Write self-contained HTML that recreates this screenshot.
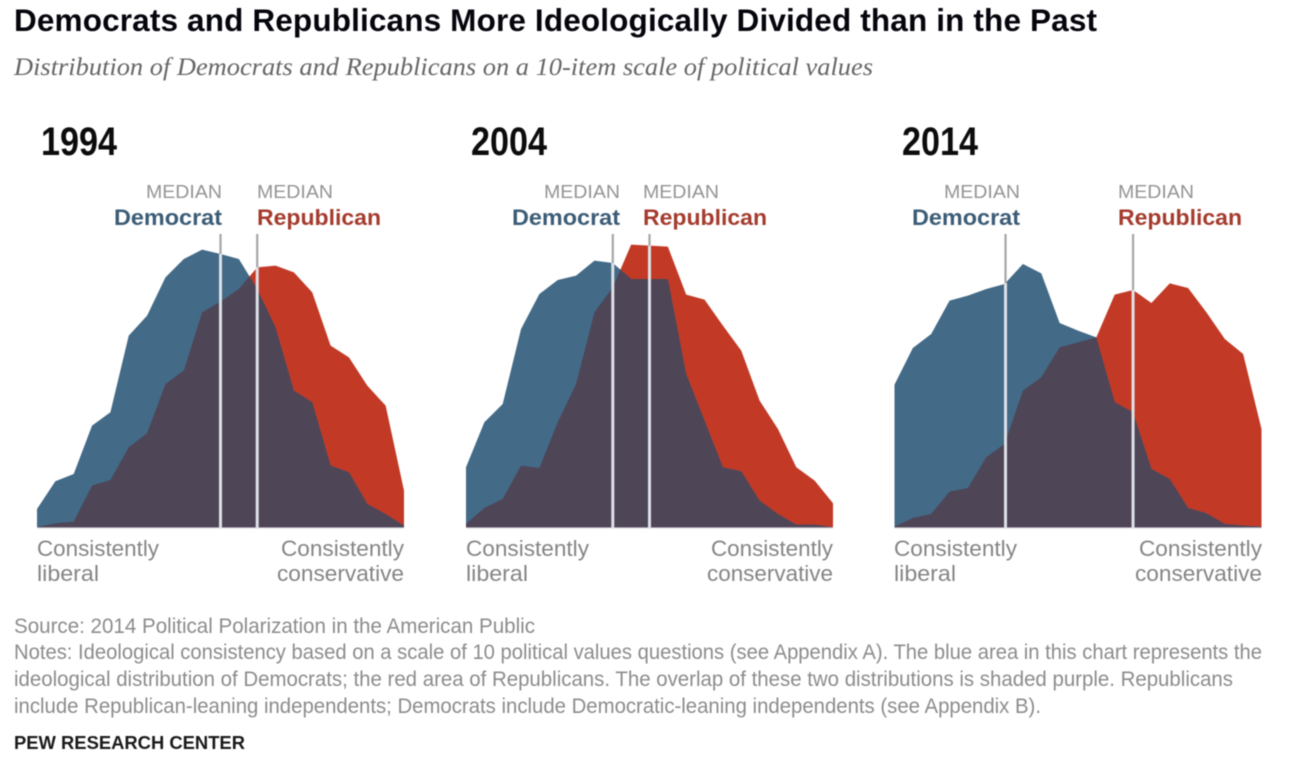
<!DOCTYPE html>
<html lang="en">
<head>
<meta charset="utf-8">
<title>Democrats and Republicans More Ideologically Divided than in the Past</title>
<style>
html,body{margin:0;padding:0;background:#fff;width:1298px;height:764px;overflow:hidden}
svg{display:block;filter:blur(0.55px)}
text{font-family:"Liberation Sans",sans-serif}
.median{font-size:18.5px;fill:#949494}
.dem{font-size:22px;font-weight:bold;fill:#3b5c76}
.rep{font-size:22px;font-weight:bold;fill:#a53b2e}
.year{font-size:40px;font-weight:bold;fill:#0c0c0c}
.end{font-size:22.5px;fill:#858585}
.note{font-size:21px;fill:#8c8c8c}
</style>
</head>
<body>
<svg id="chart" width="1298" height="764" viewBox="0 0 1298 764" xmlns="http://www.w3.org/2000/svg">
  <rect width="1298" height="764" fill="#fff"/>
  <text x="14" y="31" font-size="31.5" font-weight="bold" fill="#05050d" textLength="1083" lengthAdjust="spacing">Democrats and Republicans More Ideologically Divided than in the Past</text>
  <text x="14" y="75" font-size="25" font-style="italic" fill="#666" style="font-family:'Liberation Serif',serif" textLength="859" lengthAdjust="spacingAndGlyphs">Distribution of Democrats and Republicans on a 10-item scale of political values</text>

  <text class="year" x="41" y="155" textLength="76" lengthAdjust="spacingAndGlyphs">1994</text>
  <text class="year" x="471" y="155" textLength="76" lengthAdjust="spacingAndGlyphs">2004</text>
  <text class="year" x="902" y="155" textLength="76" lengthAdjust="spacingAndGlyphs">2014</text>

  <g id="panels"></g>

  <g>
    <text class="median" x="146" y="198" textLength="76" lengthAdjust="spacingAndGlyphs">MEDIAN</text>
    <text class="dem" x="114" y="225" textLength="108" lengthAdjust="spacingAndGlyphs">Democrat</text>
    <text class="median" x="257" y="198" textLength="76" lengthAdjust="spacingAndGlyphs">MEDIAN</text>
    <text class="rep" x="257" y="225" textLength="124" lengthAdjust="spacingAndGlyphs">Republican</text>
  </g>
  <g>
    <text class="median" x="544" y="198" textLength="76" lengthAdjust="spacingAndGlyphs">MEDIAN</text>
    <text class="dem" x="512" y="225" textLength="108" lengthAdjust="spacingAndGlyphs">Democrat</text>
    <text class="median" x="643" y="198" textLength="76" lengthAdjust="spacingAndGlyphs">MEDIAN</text>
    <text class="rep" x="643" y="225" textLength="124" lengthAdjust="spacingAndGlyphs">Republican</text>
  </g>
  <g>
    <text class="median" x="944" y="198" textLength="76" lengthAdjust="spacingAndGlyphs">MEDIAN</text>
    <text class="dem" x="912" y="225" textLength="108" lengthAdjust="spacingAndGlyphs">Democrat</text>
    <text class="median" x="1118" y="198" textLength="76" lengthAdjust="spacingAndGlyphs">MEDIAN</text>
    <text class="rep" x="1118" y="225" textLength="124" lengthAdjust="spacingAndGlyphs">Republican</text>
  </g>

  <g>
    <text class="end" x="37" y="556"><tspan textLength="122" lengthAdjust="spacingAndGlyphs">Consistently</tspan><tspan x="37" y="581" textLength="62" lengthAdjust="spacingAndGlyphs">liberal</tspan></text>
    <text class="end" x="281" y="556"><tspan textLength="123" lengthAdjust="spacingAndGlyphs">Consistently</tspan><tspan x="277" y="581" textLength="127" lengthAdjust="spacingAndGlyphs">conservative</tspan></text>
  </g>
  <g>
    <text class="end" x="466" y="556"><tspan textLength="123" lengthAdjust="spacingAndGlyphs">Consistently</tspan><tspan x="466" y="581" textLength="62" lengthAdjust="spacingAndGlyphs">liberal</tspan></text>
    <text class="end" x="711" y="556"><tspan textLength="122" lengthAdjust="spacingAndGlyphs">Consistently</tspan><tspan x="707" y="581" textLength="126" lengthAdjust="spacingAndGlyphs">conservative</tspan></text>
  </g>
  <g>
    <text class="end" x="894" y="556"><tspan textLength="123" lengthAdjust="spacingAndGlyphs">Consistently</tspan><tspan x="894" y="581" textLength="62" lengthAdjust="spacingAndGlyphs">liberal</tspan></text>
    <text class="end" x="1139" y="556"><tspan textLength="123" lengthAdjust="spacingAndGlyphs">Consistently</tspan><tspan x="1135" y="581" textLength="127" lengthAdjust="spacingAndGlyphs">conservative</tspan></text>
  </g>

  <text class="note" x="14" y="633" textLength="521" lengthAdjust="spacingAndGlyphs">Source: 2014 Political Polarization in the American Public</text>
  <text class="note" x="14" y="659" textLength="1248" lengthAdjust="spacingAndGlyphs">Notes: Ideological consistency based on a scale of 10 political values questions (see Appendix A). The blue area in this chart represents the</text>
  <text class="note" x="14" y="686" textLength="1219" lengthAdjust="spacingAndGlyphs">ideological distribution of Democrats; the red area of Republicans. The overlap of these two distributions is shaded purple. Republicans</text>
  <text class="note" x="14" y="713" textLength="1027" lengthAdjust="spacingAndGlyphs">include Republican-leaning independents; Democrats include Democratic-leaning independents (see Appendix B).</text>
  <text x="14" y="749" font-size="18.5" font-weight="bold" fill="#1a1a1a" textLength="231" lengthAdjust="spacingAndGlyphs">PEW RESEARCH CENTER</text>
</svg>

<script>
const years = [1994, 2004, 2014];

const democrats1994 = [0.55,1.38,1.60,3.05,3.45,5.75,6.35,7.50,8.05,8.33,8.20,8.05,7.15,6.00,4.10,3.75,1.85,1.65,0.70,0.40,0.05];
const republicans1994 = [0.00,0.12,0.17,1.25,1.42,2.40,2.82,4.30,4.70,6.45,6.77,7.15,7.80,7.85,7.65,7.05,5.45,5.10,4.25,3.65,1.10];

const democrats2004 = [1.80,3.15,3.70,5.95,7.00,7.42,7.55,8.00,7.93,7.45,7.45,7.45,4.60,3.20,1.80,1.68,0.80,0.40,0.08,0.08,0.00];
const republicans2004 = [0.10,0.58,0.85,1.85,1.78,3.15,4.30,6.45,7.20,8.48,8.45,8.42,6.98,6.83,6.05,5.30,3.80,2.95,1.80,1.40,0.72];

const democrats2014 = [4.28,5.38,5.80,6.80,6.95,7.15,7.30,7.90,7.62,6.13,5.90,5.70,3.75,3.45,1.75,1.45,0.58,0.42,0.10,0.05,0.02];
const republicans2014 = [0.02,0.28,0.40,1.07,1.18,2.10,2.50,4.10,4.50,5.40,5.55,5.70,6.98,7.12,6.73,7.32,7.18,6.45,5.65,5.20,2.95];

const democratSeries = [democrats1994, democrats2004, democrats2014];
const republicanSeries = [republicans1994, republicans2004, republicans2014];

/* Scale position (0-20) of each party's median */
const democratMedians = [10, 8, 6.05];
const republicanMedians = [12, 10, 13];

const panelLefts = [37, 466, 894.5];
const panelWidth = 367;
const baseY = 527.3;
const unitPx = 33.33;
const medianTop = 234;
const svgNS = 'http://www.w3.org/2000/svg';
const panelsRoot = document.getElementById('panels');

function xAxis(panel, bin, count) {
  return panelLefts[panel] + bin * panelWidth / (count - 1);
}
function yAxis(value) {
  return baseY - value * unitPx;
}
function valueAt(values, pos) {
  const i = Math.min(Math.floor(pos), values.length - 2);
  return values[i] + (pos - i) * (values[i + 1] - values[i]);
}
function areaPoints(panel, values) {
  const pts = values.map(function (v, i) {
    return xAxis(panel, i, values.length).toFixed(2) + ',' + yAxis(v).toFixed(2);
  });
  pts.unshift(xAxis(panel, 0, values.length).toFixed(2) + ',' + baseY);
  pts.push(xAxis(panel, values.length - 1, values.length).toFixed(2) + ',' + baseY);
  return pts.join(' ');
}
function overlapValues(panel, a, b) {
  const pts = [];
  const n = a.length;
  pts.push(xAxis(panel, 0, n).toFixed(2) + ',' + baseY);
  for (let i = 0; i < n; i++) {
    pts.push(xAxis(panel, i, n).toFixed(2) + ',' + yAxis(Math.min(a[i], b[i])).toFixed(2));
    if (i < n - 1) {
      const d0 = a[i] - b[i];
      const d1 = a[i + 1] - b[i + 1];
      if (d0 * d1 < 0) {
        const t = d0 / (d0 - d1);
        const v = a[i] + t * (a[i + 1] - a[i]);
        pts.push(xAxis(panel, i + t, n).toFixed(2) + ',' + yAxis(v).toFixed(2));
      }
    }
  }
  pts.push(xAxis(panel, n - 1, n).toFixed(2) + ',' + baseY);
  return pts.join(' ');
}

years.forEach(function (year, p) {
  const dem = democratSeries[p];
  const rep = republicanSeries[p];
  const n = dem.length;

  const group = document.createElementNS(svgNS, 'g');
  
  
  panelsRoot.appendChild(group);

  const axis = document.createElementNS(svgNS, 'line');
  
  
  axis.setAttribute('x1', panelLefts[p]);
  axis.setAttribute('x2', panelLefts[p] + panelWidth);
  axis.setAttribute('y1', baseY + 0.7);
  axis.setAttribute('y2', baseY + 0.7);
  axis.setAttribute('stroke', '#dcdce4');
  axis.setAttribute('stroke-width', '1.2');
  group.appendChild(axis);

  const repArea = document.createElementNS(svgNS, 'polygon');
  
  
  repArea.setAttribute('points', areaPoints(p, rep));
  repArea.setAttribute('fill', '#c23a26');
  group.appendChild(repArea);

  const demArea = document.createElementNS(svgNS, 'polygon');
  
  
  demArea.setAttribute('points', areaPoints(p, dem));
  demArea.setAttribute('fill', '#436a87');
  group.appendChild(demArea);

  const overlap = document.createElementNS(svgNS, 'polygon');
  
  
  overlap.setAttribute('points', overlapValues(p, dem, rep));
  overlap.setAttribute('fill', '#4e4557');
  group.appendChild(overlap);

  [[democratMedians[p], 'democrat'], [republicanMedians[p], 'republican']].forEach(function (m) {
    const pos = m[0];
    const mx = xAxis(p, pos, n);
    const topVal = Math.max(valueAt(dem, pos), valueAt(rep, pos));

    const upper = document.createElementNS(svgNS, 'line');
    
    
    upper.setAttribute('x1', mx);
    upper.setAttribute('x2', mx);
    upper.setAttribute('y1', medianTop);
    upper.setAttribute('y2', yAxis(topVal));
    upper.setAttribute('stroke', '#a6a6a8');
    upper.setAttribute('stroke-width', '2.2');
    group.appendChild(upper);

    const inner = document.createElementNS(svgNS, 'line');
    
    
    inner.setAttribute('x1', mx);
    inner.setAttribute('x2', mx);
    inner.setAttribute('y1', yAxis(topVal));
    inner.setAttribute('y2', baseY + 1);
    inner.setAttribute('stroke', '#dfe1e8');
    inner.setAttribute('stroke-width', '3');
    group.appendChild(inner);
  });
});
</script>
</body>
</html>
